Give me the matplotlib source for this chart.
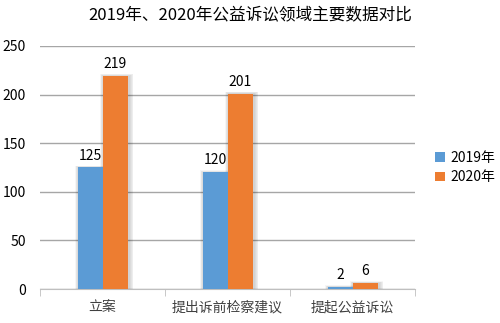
import matplotlib.pyplot as plt
import numpy as np

plt.rcParams['font.family'] = ['Noto Sans CJK SC', 'DejaVu Sans']

categories = ["立案", "提出诉前检察建议", "提起公益诉讼"]
series_names = ["2019年", "2020年"]
values_2019 = [125, 120, 2]
values_2020 = [219, 201, 6]
colors = ["#5B9BD5", "#ED7D31"]
title = "2019年、2020年公益诉讼领域主要数据对比"


def main():
    fig = plt.figure(figsize=(5, 3.23), dpi=100)
    ax = fig.add_axes([0.08, 0.105, 0.75, 0.753])

    x = np.arange(len(categories))
    w = 0.2
    for i, (vals, name) in enumerate(zip([values_2019, values_2020], series_names)):
        pos = x + (i - 0.5) * w
        # soft shadow, layered to fake a blur
        for k in range(5):
            off = 0.007 * (k + 1)
            ax.bar(pos + 0.012, np.array(vals) + 0.4 * (k + 1), width=w + off * 2,
                   color="black", alpha=0.035, linewidth=0, zorder=2)
        ax.bar(pos, vals, width=w, color=colors[i], label=name, zorder=3)
        for p, v in zip(pos, vals):
            ax.text(p, v + 5, str(v), ha="center", va="bottom", fontsize=10,
                    color="#000000", zorder=4)

    ax.set_xlim(-0.5, len(categories) - 0.5)
    ax.set_ylim(0, 250)
    ax.set_yticks(np.arange(0, 251, 50))
    ax.yaxis.grid(True, color="#A6A6A6", linewidth=1.0, zorder=0)
    ax.set_axisbelow(True)

    ax.set_xticks(x)
    ax.set_xticklabels(categories, fontsize=10, color="#404040")
    ax.set_xticks(np.arange(-0.5, len(categories), 1.0), minor=True)
    ax.tick_params(axis="x", which="major", length=0, pad=8)
    ax.tick_params(axis="x", which="minor", length=5, color="#BFBFBF")
    ax.tick_params(axis="y", length=0, labelsize=10, pad=10, labelcolor="#000000")

    for s in ["top", "right", "left"]:
        ax.spines[s].set_visible(False)
    ax.spines["bottom"].set_color("#BFBFBF")

    ax.legend(loc="center left", bbox_to_anchor=(1.02, 0.5), frameon=False,
              fontsize=10, handlelength=0.7, handleheight=0.7, handletextpad=0.4,
              labelspacing=0.4)

    fig.text(0.5, 0.953, title, ha="center", va="center", fontsize=12, color="#000000")

    fig.savefig("out.png", dpi=100)


if __name__ == "__main__":
    main()
